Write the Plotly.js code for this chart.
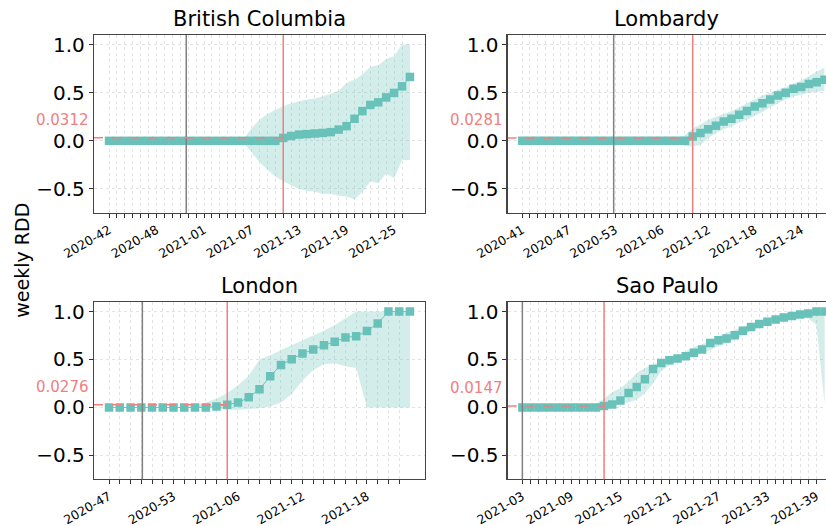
<!DOCTYPE html>
<html>
<head>
<meta charset="utf-8">
<script src="https://cdn.plot.ly/plotly-3.0.1.min.js"></script>
<style>
  html, body { margin: 0; padding: 0; background: #fff; }
  #chart { width: 826px; height: 526px; }
</style>
</head>
<body>
<div id="chart"></div>
<script>
// ISO week labels "YYYY-WW", 2020 has 53 weeks
function weekLabels(year, week, count) {
  const out = [];
  for (let i = 0; i < count; i++) {
    out.push(year + '-' + String(week).padStart(2, '0'));
    week++;
    if (week > (year === 2020 ? 53 : 52)) { week = 1; year++; }
  }
  return out;
}

// British Columbia
const bcWeeks = weekLabels(2020, 42, 39);
const bcRdd = [0,0,0,0,0,0,0,0,0,0,0,0,0,0,0,0,0,0,0,0,0,0,
  0.03,0.05,0.065,0.07,0.076,0.082,0.09,0.117,0.152,0.229,0.309,0.373,0.4,0.451,0.498,0.566,0.664];
const bcUpper = [0,0,0,0,0,0,0,0,0,0,0,0,0,0,0,0,0,
  0.02,0.13,0.22,0.28,0.32,0.36,0.39,0.41,0.43,0.44,0.46,0.49,0.52,0.6,0.635,0.69,0.77,0.785,0.85,0.88,1.0,1.0];
const bcLower = [0,0,0,0,0,0,0,0,0,0,0,0,0,0,0,0,0,
  -0.02,-0.12,-0.22,-0.3,-0.37,-0.42,-0.46,-0.5,-0.52,-0.53,-0.55,-0.55,-0.57,-0.58,-0.61,-0.53,-0.42,-0.44,-0.34,-0.39,-0.2,-0.2];

// Lombardy
const lomWeeks = weekLabels(2020, 41, 40);
const lomRdd = [0,0,0,0,0,0,0,0,0,0,0,0,0,0,0,0,0,0,0,0,0,0,
  0.045,0.08,0.12,0.156,0.2,0.23,0.27,0.31,0.357,0.39,0.43,0.47,0.5,0.54,0.56,0.59,0.61,0.635];
const lomUpper = [0,0,0,0,0,0,0,0,0,0,0,0,0,0,0,0,0,0,0,0,
  0.01,0.06,0.13,0.17,0.22,0.25,0.28,0.31,0.35,0.39,0.43,0.47,0.5,0.53,0.56,0.59,0.63,0.67,0.72,0.76];
const lomLower = [0,0,0,0,0,0,0,0,0,0,0,0,0,0,0,0,0,0,0,0,
  -0.02,-0.05,-0.06,-0.04,0.03,0.08,0.12,0.15,0.19,0.22,0.26,0.3,0.35,0.39,0.43,0.46,0.48,0.5,0.51,0.52];

// London
const lonWeeks = weekLabels(2020, 47, 29);
const lonRdd = [0,0,0,0,0,0,0,0,0,0,
  0.01,0.028,0.05,0.105,0.19,0.325,0.443,0.503,0.562,0.604,0.649,0.684,0.73,0.743,0.796,0.876,1.0,1.0,1.0];
const lonUpper = [0,0,0,0,0,0,0,0,
  0.02,0.05,0.09,0.15,0.23,0.33,0.5,0.545,0.6,0.65,0.7,0.75,0.8,0.86,0.93,1.0,1.0,1.0,1.0,1.0,1.0];
const lonLower = [0,0,0,0,0,0,0,0,0,
  -0.01,-0.02,-0.025,-0.025,-0.02,-0.01,0.01,0.05,0.14,0.28,0.39,0.45,0.46,0.43,0.41,0,0,0,0,0];

// Sao Paulo
const spWeeks = weekLabels(2021, 3, 38);
const spRdd = [0,0,0,0,0,0,0,0,0,0,
  0.014,0.03,0.073,0.15,0.213,0.293,0.4,0.464,0.492,0.51,0.534,0.569,0.604,0.673,0.7,0.719,0.754,0.8,0.84,0.869,0.893,0.918,0.939,0.953,0.97,0.98,1.0,1.0];
const spUpper = [0,0,0,0,0,0,0,0,
  0.01,0.04,0.09,0.16,0.2,0.27,0.36,0.41,0.45,0.47,0.5,0.53,0.58,0.63,0.66,0.69,0.74,0.78,0.81,0.84,0.87,0.89,0.91,0.93,0.95,0.97,0.98,0.99,1.0,1.0];
const spLower = [0,0,0,0,0,0,0,0,0,0,
  -0.01,0.0,0.03,0.05,0.08,0.15,0.25,0.38,0.44,0.49,0.52,0.53,0.57,0.6,0.64,0.67,0.71,0.75,0.8,0.84,0.87,0.89,0.91,0.93,0.94,0.93,0.86,0.03];

const regions = ['British Columbia', 'Lombardy', 'London', 'Sao Paulo'];
const thresholds = [0.0312, 0.0281, 0.0276, 0.0147];
const thresholdWeeks = ['2021-11', '2021-10', '2021-05', '2021-13'];
// grey marker sits between weeks, given as week index
const greyIdx = [9.75, 11.8, 3.1, 0];

const panels = [
  { weeks: bcWeeks, rdd: bcRdd, upper: bcUpper, lower: bcLower },
  { weeks: lomWeeks, rdd: lomRdd, upper: lomUpper, lower: lomLower },
  { weeks: lonWeeks, rdd: lonRdd, upper: lonUpper, lower: lonLower },
  { weeks: spWeeks, rdd: spRdd, upper: spUpper, lower: spLower },
];

const FONT = 'DejaVu Sans, sans-serif';
const TEAL = '#69c2ba';
const BAND = 'rgba(105,194,186,0.3)';
const RED = '#f08080';
const GREY = '#808080';

const xDomains = [[0.1138, 0.5145], [0.6146, 1.0], [0.1138, 0.5145], [0.6146, 1.0]];
const yDomains = [[0.5951, 0.9335], [0.5951, 0.9335], [0.0888, 0.4259], [0.0888, 0.4259]];
const xRanges = [[-1.9, 39.9], [-1.88, 39.2], [-1.4, 29.4], [-1.8, 37.17]];

const traces = [];
const layout = {
  width: 826, height: 526,
  margin: { l: 0, r: 0, t: 0, b: 0 },
  paper_bgcolor: '#fff', plot_bgcolor: '#fff',
  font: { family: FONT, color: '#000' },
  showlegend: false,
  shapes: [],
  annotations: [],
};

panels.forEach((p, i) => {
  const n = i === 0 ? '' : String(i + 1);
  const xa = 'x' + n, ya = 'y' + n;

  traces.push({
    x: p.weeks, y: p.lower, xaxis: xa, yaxis: ya,
    type: 'scatter', mode: 'lines', line: { width: 0, color: BAND },
    hoverinfo: 'skip',
  });
  traces.push({
    x: p.weeks, y: p.upper, xaxis: xa, yaxis: ya,
    type: 'scatter', mode: 'lines', line: { width: 0, color: BAND },
    fill: 'tonexty', fillcolor: BAND, hoverinfo: 'skip',
  });
  traces.push({
    x: p.weeks, y: p.rdd, xaxis: xa, yaxis: ya,
    type: 'scatter', mode: 'lines+markers',
    line: { color: TEAL, width: 1 },
    marker: { symbol: 'square', size: 8.5, color: TEAL, line: { width: 0 } },
  });

  // every week gets a tick, only every 6th a label; last week has no tick
  const tickWeeks = p.weeks.slice(0, -1);
  layout['xaxis' + n] = {
    domain: xDomains[i], anchor: ya, type: 'category',
    range: xRanges[i],
    tickmode: 'array', tickvals: tickWeeks,
    ticktext: tickWeeks.map((w, k) => (k % 6 === 0 ? w : '')),
    tickangle: -30, tickfont: { size: 12.5, family: FONT, color: '#000' },
    ticks: 'outside', ticklen: 4, tickwidth: 1, tickcolor: '#333',
    showgrid: true, gridcolor: '#dcdcdc', griddash: 'dot', gridwidth: 0.8,
    showline: true, linecolor: '#444', linewidth: 1.2, mirror: true,
    zeroline: false, fixedrange: true,
  };
  layout['yaxis' + n] = {
    domain: yDomains[i], anchor: xa,
    range: [-0.75, 1.1], tickmode: 'linear', tick0: 0, dtick: 0.5, tickformat: '.1f',
    tickfont: { size: 20, family: FONT, color: '#000' },
    ticks: 'outside', ticklen: 4, tickwidth: 1, tickcolor: '#333',
    showgrid: true, gridcolor: '#dcdcdc', griddash: 'dot', gridwidth: 0.8,
    showline: true, linecolor: '#444', linewidth: 1.2, mirror: i % 2 === 0,
    zeroline: false, fixedrange: true,
  };

  layout.shapes.push({
    type: 'line', xref: xa, yref: ya + ' domain', layer: 'above',
    x0: greyIdx[i], x1: greyIdx[i], y0: 0, y1: 1,
    line: { color: GREY, width: 1.5 },
  });
  layout.shapes.push({
    type: 'line', xref: xa, yref: ya + ' domain', layer: 'above',
    x0: thresholdWeeks[i], x1: thresholdWeeks[i], y0: 0, y1: 1,
    line: { color: RED, width: 1.5 },
  });
  layout.shapes.push({
    type: 'line', xref: xa, yref: ya, layer: 'above',
    x0: xRanges[i][0], x1: thresholdWeeks[i], y0: thresholds[i], y1: thresholds[i],
    line: { color: RED, width: 1.5, dash: 'dash' },
  });

  layout.annotations.push({
    text: regions[i], xref: xa + ' domain', yref: ya + ' domain',
    x: 0.5, y: 1, xanchor: 'center', yanchor: 'bottom', yshift: 2,
    showarrow: false, font: { size: 21, family: FONT, color: '#000' },
  });
  layout.annotations.push({
    text: String(thresholds[i]), xref: xa + ' domain', yref: ya,
    x: 0, y: thresholds[i], xanchor: 'right', yanchor: 'bottom', xshift: -3, yshift: 7,
    showarrow: false, font: { size: 15, family: FONT, color: RED },
  });
});

layout.annotations.push({
  text: 'weekly RDD', xref: 'paper', yref: 'paper', x: 0.027, y: 0.505,
  xanchor: 'center', yanchor: 'middle', textangle: -90, showarrow: false,
  font: { size: 19, family: FONT, color: '#000' },
});

Plotly.newPlot('chart', traces, layout, { displayModeBar: false, staticPlot: true });
</script>
</body>
</html>
